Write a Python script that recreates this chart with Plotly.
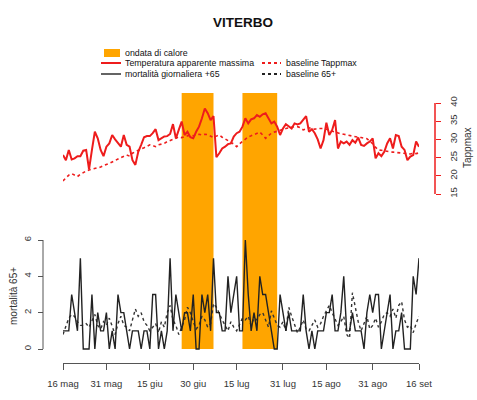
import plotly.graph_objects as go
import pandas as pd

W, H = 477, 400

# ---- data -------------------------------------------------------------
dates = pd.date_range("2015-05-16", "2015-09-16", freq="D")

tapp_max = [
    25.7, 24.3, 27.1, 24.5, 24.8, 25.4, 25.4, 26.9, 27.1, 21.8,
    27.1, 32.1, 30.3, 27.1, 25.4, 28.0, 28.9, 31.2, 30.0, 28.9,
    28.0, 31.2, 28.5, 28.0, 24.3, 23.0, 26.6, 28.5, 30.6, 30.9,
    30.9, 31.7, 32.8, 29.8, 30.3, 30.8, 30.9, 31.5, 34.2, 30.3,
    32.6, 34.9, 31.2, 32.1, 30.6, 30.3, 32.1, 33.5, 35.8, 38.5,
    37.2, 35.3, 36.4, 25.1, 26.2, 27.5, 28.0, 28.7, 28.9, 30.8,
    31.7, 32.1, 33.5, 35.8, 34.4, 35.5, 35.8, 36.7, 36.2, 36.9,
    37.2, 35.8, 34.4, 34.9, 33.5, 31.2, 33.0, 34.2, 33.7, 33.0,
    34.4, 34.1, 34.4, 35.3, 36.4, 32.1, 32.8, 31.7, 30.0, 27.5,
    29.8, 34.6, 31.2, 32.6, 35.3, 27.5, 29.4, 28.9, 29.4, 28.5,
    29.8, 29.1, 30.5, 28.5, 28.2, 28.9, 29.4, 30.3, 24.8, 26.2,
    25.4, 26.6, 28.9, 30.3, 27.5, 31.2, 30.9, 28.0, 27.1, 24.3,
    25.3, 25.7, 29.4, 28.0,
]

tapp_baseline = [
    18.6, 19.4, 20.2, 20.6, 20.3, 19.8, 20.4, 20.9, 21.3, 21.6,
    21.8, 21.9, 22.0, 22.4, 22.8, 23.0, 23.4, 23.8, 24.3, 24.6,
    25.0, 25.4, 25.7, 25.4, 26.2, 26.6, 27.1, 27.4, 27.7, 28.1,
    28.5, 28.3, 28.0, 28.5, 28.7, 28.9, 29.4, 29.8, 30.0, 30.3,
    30.7, 30.5, 30.7, 31.0, 31.2, 31.0, 31.3, 31.4, 31.2, 31.4,
    31.3, 30.8, 30.5, 30.9, 31.2, 30.6, 30.2, 29.8, 29.2, 28.7,
    28.0, 28.8, 29.4, 30.0, 30.7, 31.0, 31.4, 31.6, 32.0, 31.2,
    30.3, 31.0, 31.7, 32.0, 32.3, 32.5, 32.8, 33.0, 33.2, 33.4,
    33.5, 33.5, 33.2, 32.6, 33.0, 33.2, 33.0, 32.8, 33.0, 33.1,
    33.0, 32.8, 32.5, 32.2, 31.9, 31.7, 31.5, 31.4, 31.2, 31.0,
    30.9, 30.7, 30.6, 30.5, 30.3, 30.2, 29.5, 28.8, 27.8, 27.1,
    27.0, 26.8, 26.7, 26.6, 26.5, 26.4, 26.4, 26.2, 26.0, 25.9,
    26.0, 26.2, 26.1, 26.3,
]

mortality = [
    1, 1, 1, 3, 2, 1, 5, 0, 0, 0,
    3, 0, 2, 1, 1, 2, 0, 1, 0, 3,
    2, 2, 1, 0, 1, 1, 1, 0, 1, 1,
    0, 3, 3, 0, 1, 0, 1, 5, 1, 3,
    2, 1, 2, 2, 1, 3, 0, 0, 3, 2,
    3, 1, 5, 2, 2, 1, 1, 4, 2, 3,
    4, 1, 1, 6, 3, 1, 2, 1, 4, 3,
    3, 2, 1, 0, 0, 3, 2, 1, 2, 1,
    1, 1, 1, 3, 1, 0, 1, 0, 1, 1,
    1, 2, 2, 3, 1, 1, 2, 4, 1, 1,
    2, 1, 1, 1, 0, 2, 3, 2, 3, 3,
    0, 1, 2, 3, 0, 1, 1, 2, 0, 0,
    0, 4, 3, 5,
]

mortality_baseline = [
    0.8, 1.2, 1.7, 1.9, 1.8, 1.5, 1.3, 1.3, 1.4, 1.2,
    1.6, 1.9, 1.3, 1.1, 1.5, 1.3, 1.7, 1.2, 0.8, 1.4,
    1.8, 1.3, 1.2, 1.0, 1.6, 2.2, 1.8, 2.0, 1.5, 1.3,
    1.0, 1.2, 1.4, 0.9, 1.5, 1.2, 2.0, 2.4, 1.6, 1.3,
    0.8, 1.2, 1.6, 2.3, 2.0, 1.5, 1.1, 1.3, 1.8, 1.6,
    1.2, 1.4, 2.5, 2.3, 1.9, 1.6, 1.3, 1.0, 1.5, 1.2,
    1.0, 1.4, 1.7, 1.6, 1.8, 1.3, 1.7, 1.6, 1.9, 2.0,
    1.6, 1.2, 2.1, 1.7, 1.3, 1.2, 1.5, 1.0, 2.3, 1.8,
    1.3, 0.9, 1.2, 1.6, 1.1, 1.0, 1.3, 1.6, 1.2, 1.4,
    1.8, 2.1, 2.4, 2.0, 1.6, 1.3, 1.5, 1.8, 0.8, 0.6,
    3.1, 2.2, 1.5, 1.0, 1.4, 1.8, 1.1, 1.3, 1.7, 1.2,
    1.5, 1.9, 2.0, 1.8, 2.2, 1.7, 2.4, 2.6, 1.6, 1.2,
    1.3, 0.9, 1.4, 1.8,
]

heatwave_start = ["2015-06-26", "2015-07-17"]
heatwave_end = ["2015-07-07", "2015-07-29"]

x_tick_dates = ["2015-05-16", "2015-05-31", "2015-06-15", "2015-06-30", "2015-07-15",
                "2015-07-31", "2015-08-15", "2015-08-31", "2015-09-16"]
x_tick_labels = ["16 mag", "31 mag", "15 giu", "30 giu", "15 lug",
                 "31 lug", "15 ago", "31 ago", "16 set"]
mort_ticks = [0, 2, 4, 6]
temp_ticks = [15, 20, 25, 30, 35, 40]

# ---- geometry (pixels of the 477x400 page) ----------------------------
def fx(p):
    return p / W

def fy(p):
    return 1 - p / H

PLOT_TOP, PLOT_BOTTOM = 88, 363
X_LEFT, X_RIGHT = 63, 419
# mortality axis: 0 at 349px, 6 at 240px
M0_PX, M6_PX = 349, 240
m_scale = (M0_PX - M6_PX) / 6.0
mort_range = [(M0_PX - PLOT_BOTTOM) / m_scale, (M0_PX - PLOT_TOP) / m_scale]
# temperature axis: 15 at 194px, 40 at 103px
T15_PX, T40_PX = 194, 103
t_scale = (T15_PX - T40_PX) / 25.0
temp_range = [15 - (PLOT_BOTTOM - T15_PX) / t_scale, 15 + (T15_PX - PLOT_TOP) / t_scale]

FONT = "Liberation Sans, Arial, sans-serif"
RED = "#EE1C1C"
DARK = "#222222"
ORANGE = "#FFA500"

fig = go.Figure()

fig.add_trace(go.Scatter(x=dates, y=mortality_baseline, mode="lines", yaxis="y",
                         line=dict(color="#333333", width=1.4, dash="dot"),
                         showlegend=False, hoverinfo="skip"))
fig.add_trace(go.Scatter(x=dates, y=mortality, mode="lines", yaxis="y",
                         line=dict(color=DARK, width=1.4),
                         showlegend=False))
fig.add_trace(go.Scatter(x=dates, y=tapp_baseline, mode="lines", yaxis="y2",
                         line=dict(color=RED, width=1.6, dash="dot"),
                         showlegend=False, hoverinfo="skip"))
fig.add_trace(go.Scatter(x=dates, y=tapp_max, mode="lines", yaxis="y2",
                         line=dict(color=RED, width=2),
                         showlegend=False))

shapes = []
# heatwave bands, from mortality zero up to the top of the panel
for s, e in zip(heatwave_start, heatwave_end):
    shapes.append(dict(type="rect", xref="x", yref="paper", x0=s, x1=e,
                       y0=fy(M0_PX), y1=fy(93), fillcolor=ORANGE,
                       line=dict(width=0), layer="below"))

# R-style axis lines limited to the tick span
shapes.append(dict(type="line", xref="paper", yref="paper", x0=fx(43), x1=fx(43),
                   y0=fy(M0_PX), y1=fy(M6_PX), line=dict(color="#555555", width=1)))
shapes.append(dict(type="line", xref="paper", yref="paper", x0=fx(435), x1=fx(435),
                   y0=fy(T15_PX), y1=fy(T40_PX), line=dict(color=RED, width=1.5)))

# legend keys
shapes.append(dict(type="rect", xref="paper", yref="paper", x0=fx(104), x1=fx(120),
                   y0=fy(57), y1=fy(49), fillcolor=ORANGE, line=dict(width=0)))
shapes.append(dict(type="line", xref="paper", yref="paper", x0=fx(101), x1=fx(121),
                   y0=fy(63), y1=fy(63), line=dict(color=RED, width=2)))
shapes.append(dict(type="line", xref="paper", yref="paper", x0=fx(101), x1=fx(121),
                   y0=fy(74), y1=fy(74), line=dict(color=DARK, width=1.4)))
shapes.append(dict(type="line", xref="paper", yref="paper", x0=fx(262), x1=fx(281),
                   y0=fy(63), y1=fy(63), line=dict(color=RED, width=2, dash="dot")))
shapes.append(dict(type="line", xref="paper", yref="paper", x0=fx(262), x1=fx(281),
                   y0=fy(74), y1=fy(74), line=dict(color=DARK, width=2, dash="dot")))

legend_font = dict(family=FONT, size=8.8, color="#111111")
annotations = [
    dict(text="<b>VITERBO</b>", x=fx(243), y=fy(22), xanchor="center",
         font=dict(family=FONT, size=13.5, color="#111111")),
    dict(text="ondata di calore", x=fx(123), y=fy(53), xanchor="left"),
    dict(text="Temperatura apparente massima", x=fx(123), y=fy(63), xanchor="left"),
    dict(text="mortalità giornaliera +65", x=fx(123), y=fy(74), xanchor="left"),
    dict(text="baseline Tappmax", x=fx(284), y=fy(63), xanchor="left"),
    dict(text="baseline 65+", x=fx(284), y=fy(74), xanchor="left"),
    dict(text="mortalità 65+", x=fx(13), y=fy(296), textangle=-90, xanchor="center",
         font=dict(family=FONT, size=10, color="#333333")),
    dict(text="Tappmax", x=fx(467), y=fy(148), textangle=-90, xanchor="center",
         font=dict(family=FONT, size=10, color="#333333")),
]
for a in annotations:
    a.setdefault("xref", "paper")
    a.setdefault("yref", "paper")
    a.setdefault("showarrow", False)
    a.setdefault("yanchor", "middle")
    a.setdefault("font", legend_font)

tick_font = dict(family=FONT, size=9.5, color="#333333")

fig.update_layout(
    template="none",
    width=W, height=H,
    margin=dict(l=0, r=0, t=0, b=0, autoexpand=False),
    paper_bgcolor="white", plot_bgcolor="rgba(0,0,0,0)",
    showlegend=False,
    font=dict(family=FONT),
    shapes=shapes,
    annotations=annotations,
    xaxis=dict(
        domain=[fx(X_LEFT), fx(X_RIGHT)],
        range=[dates[0], dates[-1]],
        anchor="y", automargin=False,
        showline=True, linecolor="#555555", linewidth=1,
        ticks="outside", ticklen=6, tickcolor="#555555",
        tickvals=x_tick_dates, ticktext=x_tick_labels,
        tickfont=tick_font, ticklabelstandoff=6,
        showgrid=False, zeroline=False,
    ),
    yaxis=dict(
        domain=[fy(PLOT_BOTTOM), fy(PLOT_TOP)],
        range=mort_range,
        anchor="free", position=fx(43), side="left", automargin=False,
        tickvals=mort_ticks, ticks="outside", ticklen=5, tickcolor="#555555",
        tickangle=-90, tickfont=tick_font, ticklabelstandoff=3,
        showline=False, showgrid=False, zeroline=False,
    ),
    yaxis2=dict(
        overlaying="y",
        range=temp_range,
        anchor="free", position=fx(435), side="right", automargin=False,
        tickvals=temp_ticks, ticks="outside", ticklen=5, tickcolor=RED,
        tickangle=-90, tickfont=tick_font, ticklabelstandoff=5,
        showline=False, showgrid=False, zeroline=False,
    ),
)

fig.write_html("out.html")
